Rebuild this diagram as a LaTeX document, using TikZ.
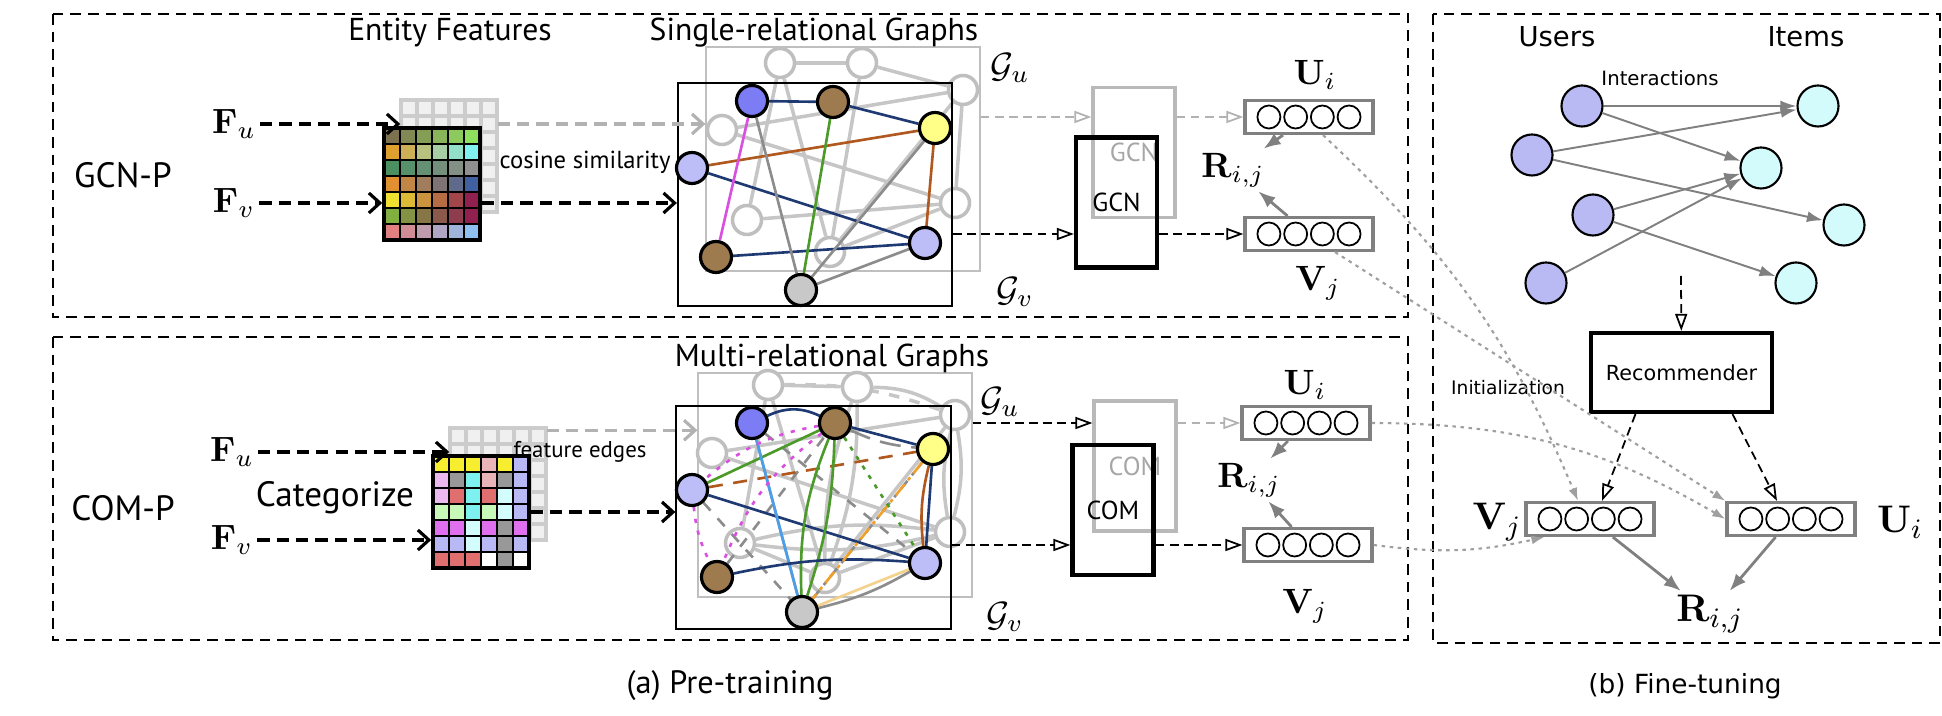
\documentclass[tikz,border=0pt]{standalone}
\usepackage{amsmath,amssymb}
\usepackage[no-math]{fontspec}
\newfontfamily\bioFont{PT Sans}
\newfontfamily\veraFont{DejaVu Sans}
\usetikzlibrary{arrows.meta,positioning}

\definecolor{enavy}{HTML}{1F3A73}
\definecolor{esienna}{HTML}{B0581E}
\definecolor{egreen}{HTML}{4C9A2A}
\definecolor{emag}{HTML}{D94FE0}
\definecolor{eblue}{HTML}{4A9EEA}
\definecolor{eorange}{HTML}{F0A02C}
\definecolor{elorange}{HTML}{F2D28C}
\definecolor{egray}{HTML}{8C8C8C}
\definecolor{nblue}{HTML}{7C7CF4}
\definecolor{nbrown}{HTML}{9E7B4F}
\definecolor{nyellow}{HTML}{FFFF88}
\definecolor{nlav}{HTML}{BDBDF7}
\definecolor{ngray}{HTML}{C8C8C8}
\definecolor{ufill}{HTML}{B9B9F3}
\definecolor{ifill}{HTML}{D3FBFB}
% gradient rows of the GCN-P features
\definecolor{ra1}{HTML}{7D7250}\definecolor{rb1}{HTML}{90E060}
\definecolor{ra2}{HTML}{E0A030}\definecolor{rb2}{HTML}{80F0F0}
\definecolor{ra3}{HTML}{4A9060}\definecolor{rb3}{HTML}{909090}
\definecolor{ra4}{HTML}{E09030}\definecolor{rb4}{HTML}{4060A0}
\definecolor{ra5}{HTML}{F0E030}\definecolor{rb5}{HTML}{902050}
\definecolor{ra6}{HTML}{80B040}\definecolor{rb6}{HTML}{902050}
\definecolor{ra7}{HTML}{E08080}\definecolor{rb7}{HTML}{90C0F0}
% categories of the COM-P features
\definecolor{kyel}{HTML}{F8EE30}
\definecolor{kpink}{HTML}{E8B4B8}
\definecolor{klav}{HTML}{B8B8F4}
\definecolor{kvio}{HTML}{ECB8F0}
\definecolor{kgray}{HTML}{989898}
\definecolor{kcyan}{HTML}{7EF0EE}
\definecolor{kred}{HTML}{E07070}
\definecolor{klcy}{HTML}{D4FCFC}
\definecolor{kgrn}{HTML}{C8F8B8}
\definecolor{kmag}{HTML}{E070F0}
\definecolor{kwht}{HTML}{FFFFFF}

\pgfdeclarelayer{backedges}
\pgfdeclarelayer{backnodes}
\pgfdeclarelayer{frontedges}
\pgfsetlayers{backedges,backnodes,frontedges,main}

\begin{document}
\begin{tikzpicture}[x=0.01cm, y=-0.01cm,
      panel/.style={draw=black, line width=0.6pt, dash pattern=on 3pt off 2pt},
      ttl/.style={font=\bioFont\fontsize{9}{11}\selectfont},
      plbl/.style={font=\bioFont\fontsize{10}{12}\selectfont},
      sml/.style={font=\bioFont\fontsize{7}{8}\selectfont},
      mlbl/.style={font=\fontsize{10}{12}\selectfont, inner sep=1pt},
      vtxt/.style={font=\veraFont\fontsize{7.8}{9}\selectfont},
      mcell/.style={draw=black, line width=0.8pt},
      bcell/.style={fill=gray!12, draw=gray!40, line width=0.9pt},
      mframe/.style={inner sep=0pt, minimum width=0.96cm, minimum height=1.12cm},
      bnode/.style={circle, draw=gray!50, fill=white, line width=1pt, inner sep=0pt, minimum size=0.29cm},
      fnode/.style={circle, draw=black, line width=0.9pt, inner sep=0pt, minimum size=0.31cm},
      bedge/.style={draw=gray!45, line width=1pt},
      fedge/.style={line width=0.75pt},
      gbox/.style={draw=gray!50, line width=0.6pt, inner sep=0pt, minimum width=2.73cm, minimum height=2.23cm},
      fbox/.style={draw=black, line width=0.6pt, inner sep=0pt, minimum width=2.74cm, minimum height=2.22cm},
      gcnb/.style={draw=gray!55, text=gray!70, line width=0.9pt, minimum width=0.82cm, minimum height=1.3cm, font=\bioFont\fontsize{7.4}{9}\selectfont},
      gcnf/.style={draw=black, line width=1.2pt, minimum width=0.81cm, minimum height=1.3cm, font=\bioFont\fontsize{7.4}{9}\selectfont},
      embox/.style={draw=gray, line width=0.9pt, inner sep=0pt, minimum width=1.28cm, minimum height=0.33cm},
      emcell/.style={circle, draw=black, line width=0.5pt, inner sep=0pt, minimum size=0.23cm},
      farrow/.style={line width=0.9pt, dash pattern=on 3.5pt off 2pt, -{Straight Barb[length=0.11cm, width=0.2cm]}},
      fgarrow/.style={farrow, draw=gray!60},
      parrow/.style={line width=0.5pt, dash pattern=on 2.5pt off 1.5pt, -{Triangle[open, length=0.17cm, width=0.12cm]}},
      pgarrow/.style={parrow, draw=gray!60},
      rarrow/.style={draw=gray, line width=0.8pt, -{Latex[length=0.17cm, width=0.13cm]}},
      usernode/.style={circle, draw=black, fill=ufill, line width=0.6pt, inner sep=0pt, minimum size=0.41cm},
      itemnode/.style={usernode, fill=ifill},
      iarrow/.style={draw=gray, line width=0.55pt, -{Latex[length=0.16cm, width=0.11cm]}},
      recbox/.style={draw=black, line width=1.2pt, minimum width=1.81cm, minimum height=0.79cm, font=\veraFont\fontsize{5.9}{7}\selectfont},
      initarrow/.style={draw=gray!75, line width=0.6pt, dash pattern=on 1pt off 1.3pt, -{Latex[length=0.13cm, width=0.09cm]}}
      ]
      \useasboundingbox (0,0) rectangle (1942,716);
      \draw[panel] (53,14) rectangle (1408,317);
      \draw[panel] (53,337) rectangle (1408,640);
      \draw[panel] (1433,14) rectangle (1940,643);

      \node[ttl] (tent) at (450,33) {Entity Features};
      \node[ttl] (tsrg) at (814,33) {Single-relational Graphs};
      \node[ttl] (tmrg) at (832,358) {Multi-relational Graphs};
      \node[plbl] (gcnp) at (123,175) {GCN-P};
      \node[plbl] (comp) at (123,508) {COM-P};
      \node[plbl] (cat) at (335,498) {Categorize};

      % feature matrices, GCN-P
      \foreach \ri in {0,...,6}
        \foreach \ci in {0,...,5}
          \filldraw[bcell] (401+16*\ci,100+16*\ri) rectangle +(16,16);
      \node[mframe] (mbu) at (449,156) {};
      \foreach \ri in {1,...,7}
        \foreach \ci in {0,...,5}{
          \pgfmathtruncatemacro\pct{100-20*\ci}
          \filldraw[mcell, fill=ra\ri!\pct!rb\ri] (384+16*\ci,112+16*\ri) rectangle +(16,16);
        }
      \node[mframe, draw=black, line width=1pt] (mfu) at (432,184) {};

      % feature matrices, COM-P
      \foreach \ri in {0,...,6}
        \foreach \ci in {0,...,5}
          \filldraw[bcell] (450+16*\ci,428+16*\ri) rectangle +(16,16);
      \node[mframe] (mbb) at (498,484) {};
      \foreach \row [count=\ri] in {{kyel,kyel,kyel,kpink,kyel,klav},{kvio,kgray,kcyan,kpink,kgray,klav},{kvio,kred,kcyan,kred,klcy,klav},{kgrn,kgrn,kcyan,kgrn,klcy,klav},{kmag,kmag,klcy,kmag,kgray,kmag},{klav,klav,klcy,klav,kgray,klav},{kred,kred,kred,kwht,kgray,kwht}}
        \foreach \cc [count=\ci] in \row
          \filldraw[mcell, fill=\cc] (417+16*\ci,440+16*\ri) rectangle +(16,16);
      \node[mframe, draw=black, line width=1pt] (mfb) at (481,512) {};

      \node[sml] (cos) at (585,162) {cosine similarity};
      \node[sml, font=\bioFont\fontsize{6.5}{8}\selectfont] (fedg) at (580,452) {feature edges};

      % single-relational graphs
      \begin{pgfonlayer}{backnodes}
      \foreach \n/\x/\y in {g1/780/63, g2/862/63, g3/963/90, g4/722/130, g5/955/203, g6/747/220, g7/830/252}
        \node[bnode] (\n) at (\x,\y) {};
      \end{pgfonlayer}
      \begin{pgfonlayer}{backedges}
      \node[gbox] (gbu) at (843,159) {};
      \foreach \i/\j in {g1/g2, g2/g3, g4/g3, g3/g5, g4/g5, g6/g5, g1/g6, g1/g7, g2/g7, g3/g7, g7/g5}
        \draw[bedge] (\i) -- (\j);
      \end{pgfonlayer}
      \foreach \n/\x/\y/\col in {a1/752/101/nblue, a2/833/102/nbrown, a3/935/128/nyellow, a4/692/168/nlav, a5/925/243/nlav, a6/716/257/nbrown, a7/801/290/ngray}
        \node[fnode, fill=\col] (\n) at (\x,\y) {};
      \begin{pgfonlayer}{frontedges}
      \node[fbox] (afu) at (815,194.5) {};
      \foreach \i/\j/\col in {a1/a2/enavy, a2/a3/enavy, a4/a3/esienna, a4/a5/enavy, a6/a5/enavy, a3/a5/esienna, a1/a6/emag, a2/a7/egreen, a1/a7/egray, a7/a3/egray, a7/a5/egray}
        \draw[fedge, draw=\col] (\i) -- (\j);
      \end{pgfonlayer}
      \node[mlbl] (gut) at (1010,68) {$\mathcal{G}_u$};
      \node[mlbl] (gvt) at (1015,292) {$\mathcal{G}_v$};

      % multi-relational graphs
      \begin{pgfonlayer}{backnodes}
      \foreach \n/\x/\y in {h1/768/385, h2/857/387, h3/955/415, h4/712/453, h5/950/532, h6/740/543, h7/825/578}
        \node[bnode] (\n) at (\x,\y) {};
      \end{pgfonlayer}
      \begin{pgfonlayer}{backedges}
      \node[gbox] (gbb) at (835,485) {};
      \foreach \i/\j in {h1/h2, h4/h3, h4/h5, h1/h6, h1/h7, h3/h7, h7/h5, h6/h7}
        \draw[bedge] (\i) -- (\j);
      \draw[bedge] (h2) to[bend left=15] (h3);
      \draw[bedge] (h3) to[bend left=12] (h5);
      \draw[bedge] (h3) to[bend right=12] (h5);
      \draw[bedge] (h6) to[bend left=10] (h5);
      \draw[bedge] (h6) to[bend right=10] (h5);
      \draw[bedge] (h2) to[bend right=10] (h7);
      \draw[bedge] (h2) to[bend left=10] (h7);
      \draw[bedge, dashed] (h1) to[bend left=10] (h3);
      \end{pgfonlayer}
      \foreach \n/\x/\y/\col in {b1/752/423/nblue, b2/835/423/nbrown, b3/933/449/nyellow, b4/692/490/nlav, b5/925/563/nlav, b6/717/577/nbrown, b7/802/612/ngray}
        \node[fnode, fill=\col] (\n) at (\x,\y) {};
      \begin{pgfonlayer}{frontedges}
      \node[fbox] (afb) at (813.5,517.5) {};
      \draw[fedge, egray, dashed] (b1) -- (b5);
      \draw[fedge, egray, dash pattern=on 6pt off 3pt] (b2) to[bend right=10] (b3);
      \draw[fedge, egray] (b1) -- (b7);
      \draw[fedge, egray, dash pattern=on 3pt off 2pt on 1pt off 2pt] (b7) -- (b3);
      \draw[fedge, egray] (b7) to[bend right=8] (b5);
      \draw[fedge, egray, dashed] (b4) -- (b7);
      \draw[fedge, egray, dashed] (b6) -- (b2);
      \draw[fedge, enavy] (b1) to[bend left=25] (b2);
      \draw[fedge, enavy] (b2) -- (b3);
      \draw[fedge, egreen] (b4) -- (b2);
      \draw[fedge, enavy] (b4) -- (b5);
      \draw[fedge, esienna, dash pattern=on 4pt off 3pt] (b4) -- (b3);
      \draw[fedge, eblue] (b1) -- (b7);
      \draw[fedge, egreen] (b2) to[bend right=12] (b7);
      \draw[fedge, egreen] (b2) to[bend left=8] (b7);
      \draw[fedge, egreen, dash pattern=on 1.2pt off 2pt] (b2) -- (b5);
      \draw[fedge, emag, dash pattern=on 1.2pt off 2.2pt] (b2) to[bend right=15] (b4);
      \draw[fedge, emag, dash pattern=on 1.2pt off 2.2pt] (b4) to[bend right=10] (b6);
      \draw[fedge, emag, dash pattern=on 1.2pt off 2.2pt] (b2) to[bend right=15] (b6);
      \draw[fedge, enavy] (b6) to[bend left=8] (b5);
      \draw[fedge, esienna] (b3) to[bend right=10] (b5);
      \draw[fedge, enavy] (b3) -- (b5);
      \draw[fedge, eorange, dash pattern=on 4pt off 1.5pt on 1pt off 1.5pt] (b3) -- (b7);
      \draw[fedge, elorange] (b7) -- (b5);
      \end{pgfonlayer}
      \node[mlbl] (gub) at (1000,402) {$\mathcal{G}_u$};
      \node[mlbl] (gvb) at (1005,617) {$\mathcal{G}_v$};

      % encoders and embeddings
      \node[gcnb] (gcnb) at (1134,152.5) {GCN};
      \node[gcnf] (gcnf) at (1116.5,202.5) {GCN};
      \node[gcnb] (comb) at (1135,466) {COM};
      \node[gcnf] (comf) at (1113,510) {COM};
      \foreach \n/\x/\y in {ut/1309/117, vt/1309/234, ub/1306/423, vb/1308/545, vr/1590/519, ur/1791/519}{
        \node[embox] (\n) at (\x,\y) {};
        \foreach \k [count=\q] in {-1.5,-0.5,0.5,1.5}
          \node[emcell] (\n-\q) at ([xshift=\k*0.267cm]\n.center) {};
      }
      \node[mlbl] (lut) at (1315,75) {$\mathbf{U}_i$};
      \node[mlbl] (rt) at (1233,170) {$\mathbf{R}_{i,j}$};
      \node[mlbl] (lvt) at (1318,283) {$\mathbf{V}_j$};
      \node[mlbl] (lub) at (1305,385) {$\mathbf{U}_i$};
      \node[mlbl] (rb) at (1249,480) {$\mathbf{R}_{i,j}$};
      \node[mlbl] (lvb) at (1305,606) {$\mathbf{V}_j$};

      \node[mlbl] (fut) at (234,124) {$\mathbf{F}_u$};
      \node[mlbl] (fvt) at (234,203) {$\mathbf{F}_v$};
      \node[mlbl] (fub) at (232,452) {$\mathbf{F}_u$};
      \node[mlbl] (fvb) at (232,540) {$\mathbf{F}_v$};
      \draw[farrow] (fut.east) -- (fut.east -| mbu.west);
      \draw[farrow] (fvt.east) -- (fvt.east -| mfu.west);
      \draw[farrow] (mfu.east |- fvt.east) -- (afu.west |- fvt.east);
      \draw[fgarrow] (mbu.east |- fut.east) -- (gbu.west |- fut.east);
      \draw[farrow] (fub.east) -- (fub.east -| mbb.west);
      \draw[farrow] (fvb.east) -- (fvb.east -| mfb.west);
      \draw[farrow] (mfb.east) -- (mfb.east -| afb.west);
      \draw[fgarrow] ([yshift=-0.03cm]mbb.north east) -- ([yshift=-0.03cm]mbb.north east -| gbb.west);

      \draw[pgarrow] (gbu.east |- ut.west) -- (gcnb.west |- ut.west);
      \draw[parrow] (afu.east |- vt.west) -- (gcnf.west |- vt.west);
      \draw[pgarrow] (gcnb.east |- ut.west) -- (ut.west);
      \draw[parrow] (gcnf.east |- vt.west) -- (vt.west);
      \draw[parrow] (gbb.east |- ub.west) -- (comb.west |- ub.west);
      \draw[parrow] (afb.east |- vb.west) -- (comf.west |- vb.west);
      \draw[pgarrow] (comb.east |- ub.west) -- (ub.west);
      \draw[parrow] (comf.east |- vb.west) -- (vb.west);
      \foreach \i/\j in {ut/rt, vt/rt, ub/rb, vb/rb}
        \draw[rarrow] (\i) -- (\j);

      % fine-tuning
      \node[vtxt] (users) at (1557,37) {Users};
      \node[vtxt] (items) at (1806,37) {Items};
      \node[vtxt, font=\veraFont\fontsize{5.6}{7}\selectfont] (inter) at (1660,78) {Interactions};
      \foreach \n/\x/\y in {u1/1582/106, u2/1532/155, u3/1593/215, u4/1546/283}
        \node[usernode] (\n) at (\x,\y) {};
      \foreach \n/\x/\y in {i1/1818/106, i2/1761/168, i3/1844/225, i4/1796/283}
        \node[itemnode] (\n) at (\x,\y) {};
      \foreach \i/\j in {u1/i1, u1/i2, u2/i1, u2/i3, u3/i2, u3/i4, u4/i2}
        \draw[iarrow] (\i) -- (\j);
      \coordinate (recin) at (1681,276);
      \node[recbox] (rec) at (1681.5,372.5) {Recommender};
      \draw[parrow] (recin) -- (rec);
      \draw[parrow] ([xshift=-0.46cm]rec.south) -- ([xshift=0.12cm]vr.north);
      \draw[parrow] ([xshift=0.51cm]rec.south) -- ([xshift=-0.14cm]ur.north);
      \node[mlbl, font=\fontsize{11}{13}\selectfont] (lvr) at (1497,522) {$\mathbf{V}_j$};
      \node[mlbl, font=\fontsize{11}{13}\selectfont] (lur) at (1900,522) {$\mathbf{U}_i$};
      \node[mlbl, font=\fontsize{11}{13}\selectfont] (rr) at (1710,614) {$\mathbf{R}_{i,j}$};
      \draw[rarrow] (vr) -- (rr);
      \draw[rarrow] (ur) -- (rr);
      \node[vtxt, font=\veraFont\fontsize{5.3}{7}\selectfont] (init) at (1508,388) {Initialization};
      \draw[initarrow] ([xshift=0.14cm]ut.south) to[bend left=12] ([xshift=-0.12cm]vr.north);
      \draw[initarrow] ([xshift=0.26cm]vt.south) -- (ur.north west);
      \draw[initarrow] (ub.east) to[bend left=15] (ur.west);
      \draw[initarrow] (vb.east) to[bend right=10] ([xshift=0.2cm]vr.south west);

      \node[ttl, font=\bioFont\fontsize{9.2}{11}\selectfont] (capa) at (730,686) {(a) Pre-training};
      \node[vtxt, font=\veraFont\fontsize{7.5}{9}\selectfont] (capb) at (1685,686) {(b) Fine-tuning};
\end{tikzpicture}
\end{document}
